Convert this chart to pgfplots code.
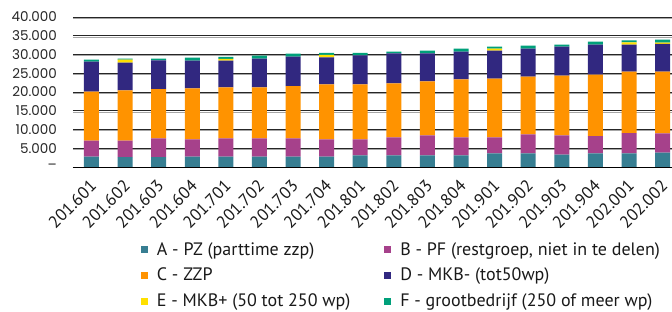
\documentclass[border=0pt]{standalone}
\usepackage{pgfplots}
\usepackage{pgfplotstable}
\pgfplotsset{compat=1.18}
\usepackage{fontspec}
\setmainfont{PT Sans}
\newfontfamily\tickfont{Poppins}
\definecolor{cA}{HTML}{377E92}
\definecolor{cB}{HTML}{A6418B}
\definecolor{cC}{HTML}{FF9300}
\definecolor{cD}{HTML}{312880}
\definecolor{cE}{HTML}{FFE000}
\definecolor{cF}{HTML}{00A07A}
\pgfplotstableread{
x A B C D E F
0 2750 4250 13100 8000 0 500
1 2600 4400 13400 7400 800 270
2 2600 5050 13100 7650 0 500
3 2750 4600 13600 7400 0 800
4 2750 4900 13600 7100 500 500
5 2750 4900 13600 7650 0 800
6 2750 4900 13900 7900 0 800
7 2750 4600 14650 7200 700 550
8 3100 4250 14650 7750 0 700
9 3100 4800 14400 8000 0 450
10 3100 5350 14400 7450 0 700
11 3100 4800 15450 7400 0 800
12 3650 4250 15650 7450 550 550
13 3650 5050 15400 7450 0 800
14 3300 5150 15900 7750 0 550
15 3650 4550 16450 8000 0 800
16 3650 5350 16450 7200 550 550
17 3800 5150 16450 7450 300 800
}\datatable
\begin{document}
\begin{tikzpicture}
\begin{axis}[
  scale only axis,
  width=599pt, height=150pt,
  ybar stacked, bar width=15pt,
  xmin=-0.55, xmax=17.28,
  ymin=0, ymax=40000,
  scaled y ticks=false,
  axis x line*=bottom, axis y line*=left,
  x axis line style={black, line width=0.9pt},
  y axis line style={draw=none},
  ytick={0,5000,10000,15000,20000,25000,30000,35000,40000},
  yticklabels={–,5.000,10.000,15.000,20.000,25.000,30.000,35.000,40.000},
  extra y ticks={4650,9650,14650,19650,24650,29650,34650,39650},
  extra y tick labels={},
  extra y tick style={grid=major, major grid style={black!35, line width=0.8pt}},
  ymajorgrids, grid style={black!85, line width=0.7pt},
  major tick length=0pt,
  xtick={0,...,17},
  xticklabels={201.601,201.602,201.603,201.604,201.701,201.702,201.703,201.704,201.801,201.802,201.803,201.804,201.901,201.902,201.903,201.904,202.001,202.002},
  xticklabel style={xshift=2pt, yshift=-16pt, rotate=45, anchor=east, font=\fontsize{17}{19}\selectfont, text=black!90, inner sep=0pt},
  yticklabel style={anchor=east, font=\tickfont\fontsize{13.5}{15}\selectfont, text=black!85, inner sep=0pt, xshift=-16pt},
  legend columns=2,
  legend cell align=left,
  legend style={draw=none, fill=none, inner sep=0pt, at={(rel axis cs:0.113,-0.50)}, anchor=north west,
    font=\fontsize{18}{20}\selectfont, text=black!90,
    nodes={inner sep=0pt},
    /tikz/every odd column/.append style={column sep=9pt},
    /tikz/every even column/.append style={column sep=34pt},
    row sep=11.5pt},
  legend image code/.code={\fill[#1] (0pt,-4pt) rectangle (7pt,3pt);},
  clip=false,
]
\addplot[fill=cA, draw=none] table[x=x, y=A] {\datatable};
\addplot[fill=cB, draw=none] table[x=x, y=B] {\datatable};
\addplot[fill=cC, draw=none] table[x=x, y=C] {\datatable};
\addplot[fill=cD, draw=none] table[x=x, y=D] {\datatable};
\addplot[fill=cE, draw=none] table[x=x, y=E] {\datatable};
\addplot[fill=cF, draw=none] table[x=x, y=F] {\datatable};
\legend{A - PZ (parttime zzp), B - PF (restgroep{,} niet in te delen), C - ZZP, D - MKB- (tot50wp), E - MKB+ (50 tot 250 wp), F - grootbedrijf (250 of meer wp)}
\end{axis}
\pgfresetboundingbox
\path (current axis.south west) ++(-73pt,-145pt) rectangle ++(672pt,312pt);
\end{tikzpicture}
\end{document}
